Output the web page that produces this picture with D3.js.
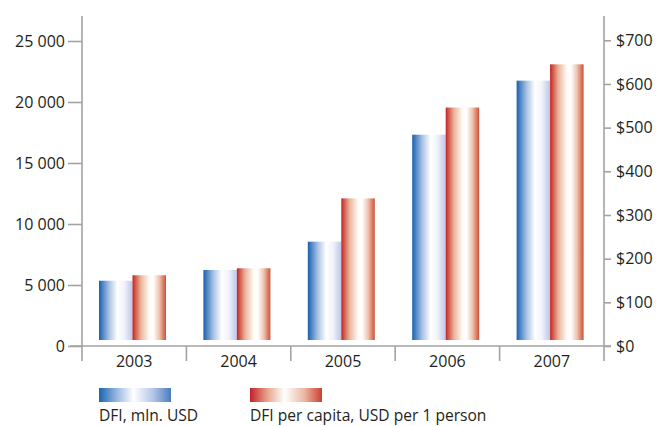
<!DOCTYPE html>
<html>
<head>
<meta charset="utf-8">
<script src="https://cdn.jsdelivr.net/npm/d3@7"></script>
<style>
  html, body { margin: 0; padding: 0; background: #fff; }
  svg { display: block; font-family: "Open Sans", "Liberation Sans", sans-serif; }
</style>
</head>
<body>
<svg id="chart" width="659" height="426"></svg>
<script>
// Direct foreign investment by year
const years = ["2003", "2004", "2005", "2006", "2007"];
const dfiTotal = [5350, 6230, 8550, 17320, 21750];      // mln. USD (left axis)
const dfiPerCapita = [162, 178, 338, 546, 645];         // USD per person (right axis)
const leftTicks = [0, 5000, 10000, 15000, 20000, 25000];
const rightTicks = [0, 100, 200, 300, 400, 500, 600, 700];
const legendLabels = ["DFI, mln. USD", "DFI per capita, USD per 1 person"];

(function draw() {
  const svg = d3.select("#chart");
  const axisColor = "#a3a3a3";
  const textColor = "#231f20";

  const plotLeft = 82, plotRight = 604, plotTop = 16, baseY = 346, bottomEnd = 361;

  const x = d3.scaleBand().domain(years).range([plotLeft, plotRight]).padding(0);
  const sub = d3.scaleBand().domain(["a", "b"]).range([17, 84]).padding(0);
  const yL = d3.scaleLinear().domain([0, 25000]).range([baseY, 41]);
  const yR = d3.scaleLinear().domain([0, 700]).range([baseY, 40.3]);
  const barGap = 6;

  // Gradients
  const defs = svg.append("defs");
  function grad(id, stops) {
    const g = defs.append("linearGradient").attr("id", id)
      .attr("x1", "0%").attr("x2", "100%").attr("y1", "0%").attr("y2", "0%");
    stops.forEach(([o, c]) => g.append("stop").attr("offset", o).attr("stop-color", c));
  }
  grad("blueBar", [["0%", "#1a5fab"], ["8%", "#3f7cc0"], ["30%", "#a9c2e4"], ["55%", "#ffffff"], ["75%", "#f1f3fb"], ["100%", "#bcc6e6"]]);
  grad("redBar", [["0%", "#c21d26"], ["6%", "#cf4a3c"], ["25%", "#eab59c"], ["50%", "#fffaf6"], ["62%", "#ffffff"], ["80%", "#efc3ae"], ["100%", "#cc5139"]]);
  grad("blueLeg", [["0%", "#1965b1"], ["25%", "#9ab8e0"], ["48%", "#ffffff"], ["75%", "#b4c6e6"], ["100%", "#4a7cc0"]]);
  grad("redLeg", [["0%", "#c6202a"], ["25%", "#e7a890"], ["48%", "#ffffff"], ["75%", "#ebb9a3"], ["100%", "#cc3f33"]]);

  // Bars
  const g = svg.append("g");
  years.forEach((yr, i) => {
    g.append("rect")
      .attr("x", x(yr) + sub("a")).attr("width", sub.bandwidth())
      .attr("y", yL(dfiTotal[i])).attr("height", yL(0) - barGap - yL(dfiTotal[i]))
      .attr("fill", "url(#blueBar)");
    g.append("rect")
      .attr("x", x(yr) + sub("b")).attr("width", sub.bandwidth())
      .attr("y", yR(dfiPerCapita[i])).attr("height", yR(0) - barGap - yR(dfiPerCapita[i]))
      .attr("fill", "url(#redBar)");
  });

  // Left axis
  const leftAxis = d3.axisLeft(yL).tickValues(leftTicks).tickSize(14).tickPadding(3)
    .tickFormat(d => d3.format(",")(d).replace(/,/g, " "));
  const gl = svg.append("g").attr("transform", `translate(${plotLeft},0)`).call(leftAxis);
  gl.select(".domain").remove();
  gl.append("line").attr("x1", 0).attr("x2", 0).attr("y1", plotTop).attr("y2", bottomEnd);

  // Right axis
  const rightAxis = d3.axisRight(yR).tickValues(rightTicks).tickSize(7).tickPadding(5)
    .tickFormat(d => "$" + d);
  const gr = svg.append("g").attr("transform", `translate(${plotRight},0)`).call(rightAxis);
  gr.select(".domain").remove();
  gr.append("line").attr("x1", 0).attr("x2", 0).attr("y1", plotTop).attr("y2", bottomEnd);

  // Bottom axis
  const bottomAxis = d3.axisBottom(x).tickSize(0).tickPadding(10);
  const gb = svg.append("g").attr("transform", `translate(0,${baseY})`).call(bottomAxis);
  gb.select(".domain").remove();
  gb.append("line").attr("x1", plotLeft - 12).attr("x2", plotRight + 7).attr("y1", 0).attr("y2", 0);
  gb.selectAll(".sep").data(years.slice(1)).join("line").attr("class", "sep")
    .attr("x1", d => x(d)).attr("x2", d => x(d)).attr("y1", 0).attr("y2", bottomEnd - baseY);

  [gl, gr, gb].forEach(a => {
    a.selectAll("line").attr("stroke", axisColor).attr("stroke-width", 1.6);
    a.selectAll("text").attr("fill", textColor).attr("font-size", 16)
      .attr("font-family", "'Open Sans', sans-serif");
  });

  // Legend
  const legend = svg.append("g");
  const legX = [99, 250];
  ["blueLeg", "redLeg"].forEach((id, i) => {
    legend.append("rect").attr("x", legX[i]).attr("y", 388).attr("width", 72).attr("height", 14)
      .attr("fill", `url(#${id})`);
    legend.append("text").attr("x", legX[i]).attr("y", 421).text(legendLabels[i])
      .attr("font-size", 15.6).attr("fill", textColor);
  });
})();
</script>
</body>
</html>
